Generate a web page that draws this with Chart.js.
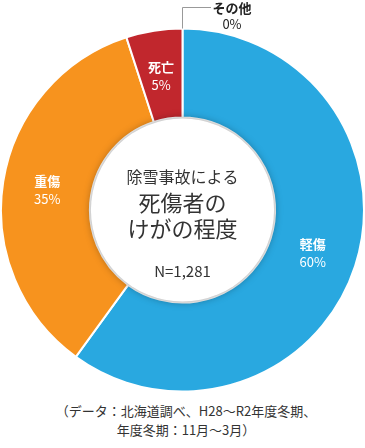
<!DOCTYPE html>
<html lang="ja">
<head>
<meta charset="utf-8">
<script src="https://cdn.jsdelivr.net/npm/chart.js@4"></script>
<style>
  html, body { margin: 0; padding: 0; background: #fff; }
  #wrap { position: relative; width: 365px; height: 448px; }
  #note {
    position: absolute; left: 0; top: 401px; width: 372px;
    text-align: center; font-family: "Noto Sans CJK JP", sans-serif;
    font-size: 13px; line-height: 19px; color: #333;
  }
</style>
</head>
<body>
<div id="wrap">
  <canvas id="injuryChart" width="365" height="400"></canvas>
  <div id="note">（データ：北海道調べ、H28～R2年度冬期、<br>年度冬期：11月～3月）</div>
</div>
<script>
// 区分
const categories = ['軽傷', '重傷', '死亡', 'その他'];
// 割合[%]
const shares = [60, 35, 5, 0];
// 色
const colors = ['#29A8E0', '#F7931E', '#C1272D', '#999999'];
// 中央のテキスト
const centerTitle = ['除雪事故による'];
const centerMain = ['死傷者の', 'けがの程度'];
const centerCount = 'N=1,281';

const FONT = '"Noto Sans CJK JP", sans-serif';

// 中央の白い円（影つき）とラベル
const labelPlugin = {
  id: 'labels',
  afterDatasetsDraw(chart) {
    const ctx = chart.ctx;
    const arcs = chart.getDatasetMeta(0).data;
    const a0 = arcs[0];

    // 中央の円
    ctx.save();
    ctx.shadowColor = 'rgba(0,0,0,0.4)';
    ctx.shadowBlur = 8;
    ctx.fillStyle = '#fff';
    ctx.beginPath();
    ctx.arc(a0.x, a0.y, a0.innerRadius - 1, 0, Math.PI * 2);
    ctx.fill();
    ctx.restore();

    // 各区分のラベル
    ctx.save();
    ctx.textAlign = 'center';
    ctx.textBaseline = 'middle';
    ctx.fillStyle = '#fff';
    arcs.forEach((arc, i) => {
      if (shares[i] <= 0) return;
      const p = arc.tooltipPosition();
      ctx.font = 'bold 13px ' + FONT;
      ctx.fillText(categories[i], p.x, p.y - 8);
      ctx.font = '13px ' + FONT;
      ctx.fillText(shares[i] + '%', p.x, p.y + 10);
    });

    // その他（0%）の引き出し線
    const z = arcs[3];
    const ang = z.startAngle;
    const sx = z.x + Math.cos(ang) * z.outerRadius;
    const sy = z.y + Math.sin(ang) * z.outerRadius;
    ctx.strokeStyle = '#999';
    ctx.lineWidth = 1;
    ctx.beginPath();
    ctx.moveTo(Math.round(sx) + 0.5, sy);
    ctx.lineTo(Math.round(sx) + 0.5, 7.5);
    ctx.lineTo(211, 7.5);
    ctx.stroke();
    ctx.fillStyle = '#222';
    ctx.font = 'bold 13px ' + FONT;
    ctx.fillText(categories[3], 232, 8);
    ctx.font = '13px ' + FONT;
    ctx.fillText(shares[3] + '%', 232, 24);

    // 中央のテキスト
    ctx.fillStyle = '#333';
    ctx.font = '16px ' + FONT;
    ctx.fillText(centerTitle[0], a0.x, 177);
    ctx.font = '22px ' + FONT;
    ctx.fillText(centerMain[0], a0.x, 203);
    ctx.fillText(centerMain[1], a0.x, 229);
    ctx.font = '15px ' + FONT;
    ctx.fillText(centerCount, a0.x, 271);
    ctx.restore();
  }
};

new Chart(document.getElementById('injuryChart').getContext('2d'), {
  type: 'doughnut',
  data: {
    labels: categories,
    datasets: [{
      data: shares,
      backgroundColor: colors,
      borderColor: '#fff',
      borderWidth: 2
    }]
  },
  options: {
    responsive: false,
    animation: false,
    cutout: '51%',
    layout: { padding: { top: 27, bottom: 7 } },
    plugins: {
      legend: { display: false },
      tooltip: { enabled: false }
    }
  },
  plugins: [labelPlugin]
});
</script>
</body>
</html>
